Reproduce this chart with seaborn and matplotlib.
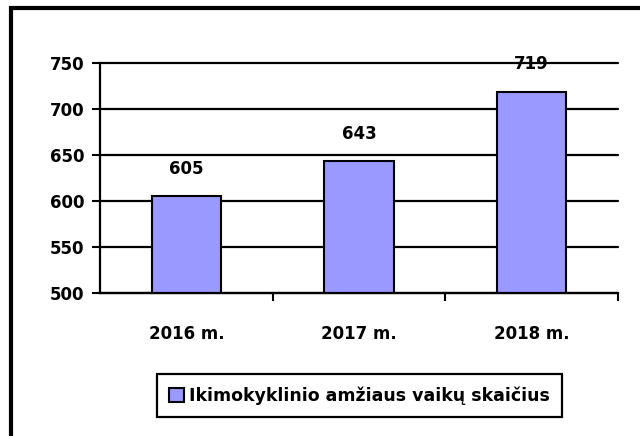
import pandas as pd
import matplotlib
matplotlib.use('Agg')
import matplotlib.pyplot as plt
import seaborn as sns
from matplotlib.patches import Rectangle, Patch

# data
years = ['2016 m.', '2017 m.', '2018 m.']
counts = [605, 643, 719]
series_name = 'Ikimokyklinio amžiaus vaikų skaičius'
y_ticks = [500, 550, 600, 650, 700, 750]

df = pd.DataFrame({'Metai': years, 'Vaikai': counts})

sns.set_style('white')
plt.rcParams['font.family'] = ['DejaVu Sans']
plt.rcParams['font.weight'] = 'bold'
plt.rcParams['text.color'] = 'black'
plt.rcParams['xtick.color'] = 'black'
plt.rcParams['ytick.color'] = 'black'

fig = plt.figure(figsize=(6.4, 4.36), dpi=100)
ax = fig.add_axes([100 / 640, 1 - 293 / 436, 518 / 640, 230 / 436])

bar_color = '#9999FF'
sns.barplot(x='Metai', y='Vaikai', data=df, color=bar_color, width=0.4,
            edgecolor='black', linewidth=1.5, saturation=1, ax=ax, zorder=3)

fs = 12
ax.set_ylim(500, 750)
ax.set_xlim(-0.5, 2.5)
ax.set_yticks(y_ticks)
ax.set_yticklabels([str(t) for t in y_ticks], fontsize=fs, fontweight='bold')
ax.set_xticks([0, 1, 2])
ax.set_xticklabels(years, fontsize=fs, fontweight='bold')
ax.tick_params(axis='x', length=0, pad=23)
ax.tick_params(axis='y', length=6, width=1.5, color='black', direction='out', pad=5, left=True)
# x ticks at the category boundaries
ax.set_xticks([0.5, 1.5, 2.5], minor=True)
ax.tick_params(axis='x', which='minor', length=6, width=1.5, color='black', direction='out', bottom=True)
ax.set_xlabel('')
ax.set_ylabel('')

ax.grid(axis='y', color='black', linewidth=1.6, zorder=0)
ax.set_axisbelow(True)
for gl in ax.get_ygridlines():
    gl.set_clip_on(False)
for side in ['top', 'right']:
    ax.spines[side].set_visible(False)
for side in ['left', 'bottom']:
    ax.spines[side].set_color('black')
    ax.spines[side].set_linewidth(1.6)
    ax.spines[side].set_zorder(4)

for i, v in enumerate(counts):
    ax.annotate(str(v), (i, v), xytext=(0, 13), textcoords='offset points',
                ha='center', va='bottom', fontsize=fs, fontweight='bold',
                color='black', zorder=5)

handle = Patch(facecolor=bar_color, edgecolor='black', linewidth=1.5, label=series_name)
leg = fig.legend(handles=[handle], loc='center', bbox_to_anchor=(359.5 / 640, 1 - 395.5 / 436),
                 frameon=True, fancybox=False, edgecolor='black', framealpha=1,
                 fontsize=12.5, handlelength=0.85, handleheight=0.85, handletextpad=0.3,
                 borderpad=0.72, borderaxespad=0)
leg.get_frame().set_linewidth(1.6)
leg.get_frame().set_edgecolor('black')
for t in leg.get_texts():
    t.set_fontweight('bold')
    t.set_color('black')

# outer chart border (only left and top visible in the crop)
fig.patches.append(Rectangle((10.5 / 640, -0.1), 1.0, 1 - 8.5 / 436 + 0.1,
                             transform=fig.transFigure, fill=False,
                             edgecolor='black', linewidth=3))

fig.savefig('out.png', dpi=100)
